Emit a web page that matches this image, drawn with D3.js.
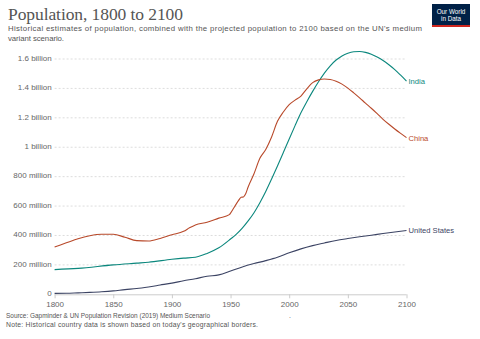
<!DOCTYPE html>
<html>
<head>
<meta charset="utf-8">
<script src="https://cdn.jsdelivr.net/npm/d3@7"></script>
<style>
  html, body { margin: 0; padding: 0; background: #fff; }
  svg { display: block; font-family: "Liberation Sans", Arial, sans-serif; }
</style>
</head>
<body>
<svg id="chart" width="480" height="339"></svg>
<script>
// Population in millions, 1800–2100 (historical estimates + UN medium variant)
const chinaYears = [1800, 1810, 1820, 1830, 1840, 1850, 1860, 1870, 1880, 1890, 1900, 1910, 1915, 1920, 1930, 1940, 1949, 1950, 1953, 1957, 1959, 1961, 1963, 1965, 1970, 1975, 1980, 1985, 1990, 1995, 2000, 2005, 2010, 2015, 2020, 2025, 2030, 2035, 2040, 2045, 2050, 2055, 2060, 2065, 2070, 2075, 2080, 2085, 2090, 2095, 2100];
const chinaPop = [322, 350, 378, 398, 408, 408, 388, 365, 362, 380, 405, 428, 452, 472, 490, 518, 542, 552, 590, 640, 660, 662, 685, 730, 820, 925, 985, 1070, 1176, 1240, 1290, 1320, 1348, 1397, 1439, 1458, 1464, 1461, 1449, 1429, 1402, 1370, 1336, 1300, 1265, 1228, 1190, 1156, 1124, 1094, 1065];

const indiaYears = [1800, 1820, 1850, 1870, 1880, 1900, 1910, 1920, 1930, 1940, 1950, 1955, 1960, 1965, 1970, 1975, 1980, 1985, 1990, 1995, 2000, 2005, 2010, 2015, 2020, 2025, 2030, 2035, 2040, 2045, 2050, 2055, 2060, 2065, 2070, 2075, 2080, 2085, 2090, 2095, 2100];
const indiaPop = [168, 176, 200, 212, 218, 238, 246, 252, 278, 316, 376, 409, 450, 499, 555, 623, 699, 784, 873, 964, 1056, 1147, 1234, 1310, 1380, 1445, 1504, 1554, 1593, 1621, 1639, 1649, 1651, 1645, 1632, 1613, 1590, 1561, 1528, 1490, 1450];

const usYears = [1800, 1810, 1820, 1830, 1840, 1850, 1860, 1870, 1880, 1890, 1900, 1910, 1920, 1930, 1940, 1950, 1960, 1970, 1980, 1990, 2000, 2010, 2020, 2030, 2040, 2050, 2060, 2070, 2080, 2090, 2100];
const usPop = [6, 7, 10, 13, 17, 23, 32, 39, 50, 63, 76, 92, 106, 123, 132, 158, 186, 209, 229, 252, 282, 309, 331, 349, 366, 379, 391, 402, 413, 424, 434];

const seriesNames = ["India", "China", "United States"];
const seriesColors = ["#0b877d", "#b8492a", "#3c4464"];

const xTicks = [1800, 1850, 1900, 1950, 2000, 2050, 2100];
const yTicks = [0, 200, 400, 600, 800, 1000, 1200, 1400, 1600];
const yTickLabels = ["0", "200 million", "400 million", "600 million", "800 million", "1 billion", "1.2 billion", "1.4 billion", "1.6 billion"];

const titleText = "Population, 1800 to 2100";
const subtitleLines = [
  "Historical estimates of population, combined with the projected population to 2100 based on the UN's medium",
  "variant scenario."
];
const subtitleWidths = [414, 56];
const sourceText = "Source: Gapminder & UN Population Revision (2019) Medium Scenario";
const noteText = "Note: Historical country data is shown based on today's geographical borders.";

const series = [
  { name: seriesNames[0], color: seriesColors[0], values: indiaYears.map((y, i) => ({ year: y, pop: indiaPop[i] })) },
  { name: seriesNames[1], color: seriesColors[1], values: chinaYears.map((y, i) => ({ year: y, pop: chinaPop[i] })) },
  { name: seriesNames[2], color: seriesColors[2], values: usYears.map((y, i) => ({ year: y, pop: usPop[i] })) }
];

const svg = d3.select("#chart");

const x = d3.scaleLinear().domain([1800, 2100]).range([54.6, 406.5]);
const y = d3.scaleLinear().domain([0, 1600]).range([294.3, 59]);

// Title block
svg.append("text")
  .attr("x", 8).attr("y", 20)
  .attr("font-family", "'Liberation Serif', 'DejaVu Serif', serif")
  .attr("font-size", 17.5)
  .attr("textLength", 175)
  .attr("lengthAdjust", "spacing")
  .attr("fill", "#555")
  .text(titleText);

svg.selectAll("text.subtitle")
  .data(subtitleLines)
  .join("text")
  .attr("class", "subtitle")
  .attr("x", 8)
  .attr("y", (d, i) => 31 + i * 10)
  .attr("font-size", 7.8)
  .attr("textLength", (d, i) => subtitleWidths[i])
  .attr("lengthAdjust", "spacing")
  .attr("fill", "#555")
  .text(d => d);

// Logo
const logo = svg.append("g").attr("transform", "translate(432,4)");
logo.append("rect").attr("width", 38).attr("height", 23).attr("fill", "#002147");
logo.append("rect").attr("y", 21).attr("width", 38).attr("height", 2).attr("fill", "#ce261e");
logo.append("text").attr("x", 19).attr("y", 9.5).attr("text-anchor", "middle")
  .attr("font-size", 6.3).attr("fill", "#fff").text("Our World");
logo.append("text").attr("x", 19).attr("y", 17).attr("text-anchor", "middle")
  .attr("font-size", 6.3).attr("fill", "#fff").text("in Data");

// Gridlines
svg.append("g")
  .selectAll("line")
  .data(yTicks.filter(d => d > 0))
  .join("line")
  .attr("x1", x(1800)).attr("x2", x(2100))
  .attr("y1", d => y(d)).attr("y2", d => y(d))
  .attr("stroke", "#ddd")
  .attr("stroke-dasharray", "2,2")
  .attr("stroke-width", 1);

// Y axis labels
const yAxis = d3.axisLeft(y)
  .tickValues(yTicks)
  .tickSize(0)
  .tickPadding(2)
  .tickFormat((d, i) => yTickLabels[i]);

const gy = svg.append("g")
  .attr("transform", `translate(${x(1800) - 1},0)`)
  .call(yAxis);
gy.select(".domain").remove();
gy.selectAll("text")
  .attr("font-family", "'Liberation Sans', Arial, sans-serif")
  .attr("font-size", 8)
  .attr("dy", "0.15em")
  .attr("fill", "#666");

// X axis
const xAxis = d3.axisBottom(x)
  .tickValues(xTicks)
  .tickSize(4)
  .tickPadding(3)
  .tickFormat(d3.format("d"));

const gx = svg.append("g")
  .attr("transform", `translate(0,${y(0)})`)
  .call(xAxis);
gx.select(".domain").attr("stroke", "#ccc").attr("d", `M${x(1800)},0.5H${x(2100)}`);
gx.selectAll(".tick line").attr("stroke", "#ccc");
gx.selectAll("text")
  .attr("font-family", "'Liberation Sans', Arial, sans-serif")
  .attr("font-size", 8)
  .attr("fill", "#666");

// Lines
const line = d3.line()
  .x(d => x(d.year))
  .y(d => y(d.pop))
  .curve(d3.curveMonotoneX);

svg.append("g")
  .selectAll("path")
  .data(series)
  .join("path")
  .attr("d", d => line(d.values))
  .attr("fill", "none")
  .attr("stroke", d => d.color)
  .attr("stroke-width", 1.1);

// End labels
svg.append("g")
  .selectAll("text")
  .data(series)
  .join("text")
  .attr("x", d => x(d.values[d.values.length - 1].year) + 2)
  .attr("y", d => y(d.values[d.values.length - 1].pop) + 3)
  .attr("font-size", 7.6)
  .attr("fill", d => d.color)
  .text(d => d.name);

// Footer
svg.append("text")
  .attr("x", 6).attr("y", 318)
  .attr("font-size", 6.8)
  .attr("textLength", 204)
  .attr("lengthAdjust", "spacingAndGlyphs")
  .attr("fill", "#555")
  .text(sourceText);
svg.append("text")
  .attr("x", 6).attr("y", 327)
  .attr("font-size", 6.8)
  .attr("textLength", 252)
  .attr("lengthAdjust", "spacing")
  .attr("fill", "#555")
  .text(noteText);
svg.append("text")
  .attr("x", 289).attr("y", 318)
  .attr("font-size", 6.8)
  .attr("fill", "#555")
  .text(".");
</script>
</body>
</html>
